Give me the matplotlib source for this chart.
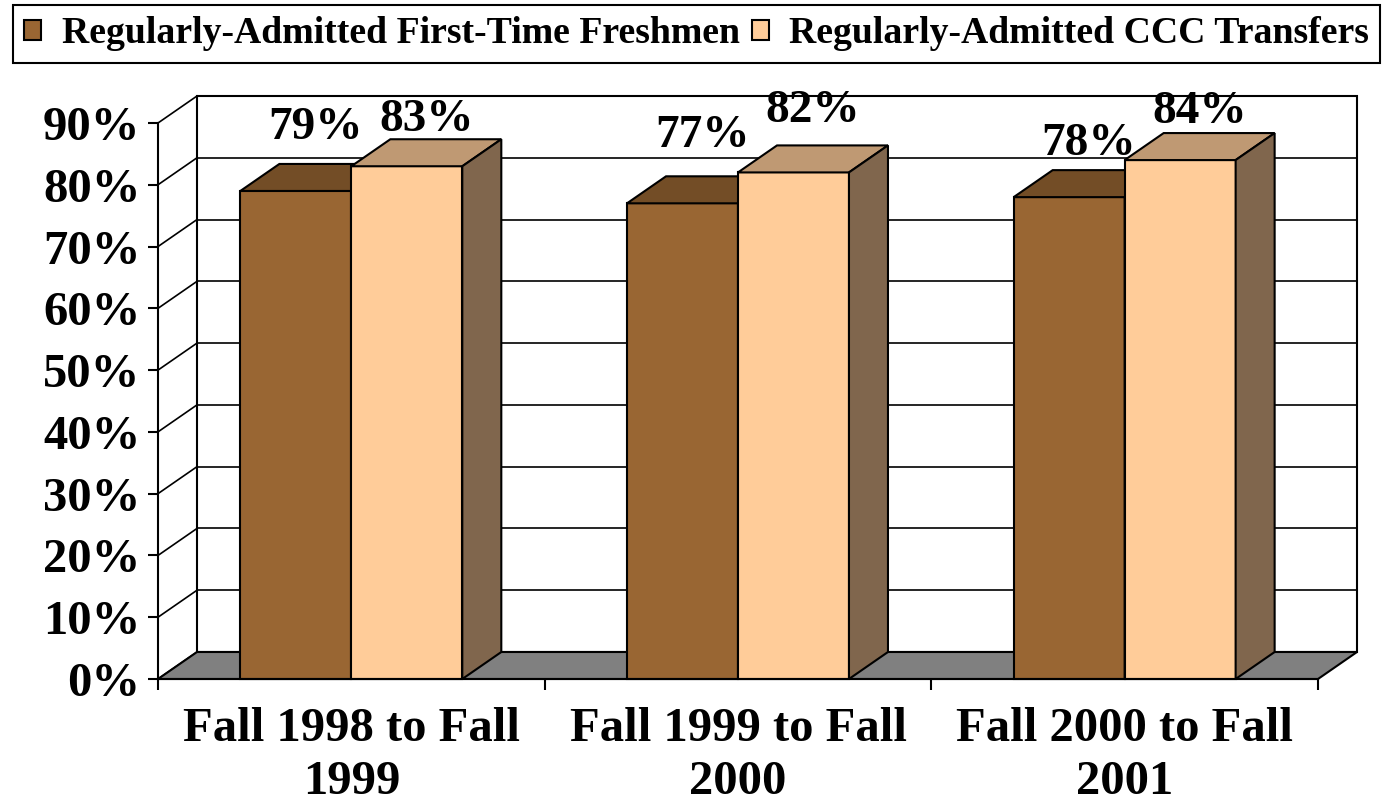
import matplotlib
matplotlib.use("Agg")
import matplotlib.pyplot as plt
from matplotlib.patches import Polygon, Patch

# ---- data ----
categories = ["Fall 1998 to Fall\n1999", "Fall 1999 to Fall\n2000", "Fall 2000 to Fall\n2001"]
series_names = ["Regularly-Admitted First-Time Freshmen", "Regularly-Admitted CCC Transfers"]
freshmen = [0.79, 0.77, 0.78]
transfers = [0.83, 0.82, 0.84]
y_ticks = [0.0, 0.1, 0.2, 0.3, 0.4, 0.5, 0.6, 0.7, 0.8, 0.9]
y_tick_labels = ["0%", "10%", "20%", "30%", "40%", "50%", "60%", "70%", "80%", "90%"]

# ---- style ----
FRONT = ["#996633", "#FFCC99"]
TOP = ["#734D26", "#BF9973"]
SIDE = ["#4D331A", "#80664D"]
FLOOR = "#808080"
LW = 1.5
BAR_W = 0.287
DEPTH_X_PX, DEPTH_Y_PX = 39, 27
# how far each value label sits above its bar top (points), per category / series
LABEL_RAISE = [[26, 14], [29, 25], [19, 15]]

plt.rcParams["font.family"] = ["Liberation Serif", "DejaVu Serif"]
plt.rcParams["font.weight"] = "bold"

W, H = 1388, 805
fig = plt.figure(figsize=(W / 100, H / 100), dpi=100)
ax = fig.add_axes([158 / W, 1 - 679 / H, (1318 - 158) / W, (679 - 123) / H])
ax.set_xlim(0, 3)
ax.set_ylim(0, 0.9)
ax.patch.set_visible(False)

# depth offset of the 3-D box, converted into data units
bbox = ax.get_window_extent()
dx = DEPTH_X_PX * 3 / bbox.width
dy = DEPTH_Y_PX * 0.9 / bbox.height
ymax = y_ticks[-1]
nx = len(categories)

common = dict(clip_on=False)

# back wall with gridlines
ax.add_patch(Polygon([(dx, dy), (nx + dx, dy), (nx + dx, ymax + dy), (dx, ymax + dy)],
                     closed=True, facecolor="white", edgecolor="black", lw=LW, zorder=1, **common))
for v in y_ticks[1:-1]:
    ax.plot([dx, nx + dx], [v + dy, v + dy], color="black", lw=LW * 0.8, zorder=1.1, **common)
# side wall diagonals
for v in y_ticks:
    ax.plot([0, dx], [v, v + dy], color="black", lw=LW * 0.8, zorder=1.1, **common)
# floor
ax.add_patch(Polygon([(0, 0), (nx, 0), (nx + dx, dy), (dx, dy)], closed=True,
                     facecolor=FLOOR, edgecolor="black", lw=LW, zorder=1.5, **common))

# bars
for i, vals in enumerate(zip(freshmen, transfers)):
    for j, v in enumerate(vals):
        z = 3 + j
        x0 = i + 0.5 - BAR_W + j * BAR_W
        x1 = x0 + BAR_W
        ax.bar(x0, v, width=BAR_W, align="edge", color=FRONT[j], edgecolor="black",
               lw=LW, zorder=z, **common)
        ax.add_patch(Polygon([(x0, v), (x1, v), (x1 + dx, v + dy), (x0 + dx, v + dy)],
                             closed=True, facecolor=TOP[j], edgecolor="black", lw=LW,
                             zorder=z, **common))
        ax.add_patch(Polygon([(x1, 0), (x1 + dx, dy), (x1 + dx, v + dy), (x1, v)],
                             closed=True, facecolor=SIDE[j], edgecolor="black", lw=LW,
                             zorder=z, **common))
        ax.annotate(f"{round(v * 100)}%", xy=(x0 + BAR_W / 2 + dx / 2, v + dy),
                    xytext=(0, LABEL_RAISE[i][j]), textcoords="offset points",
                    ha="center", va="center", fontsize=34, fontweight="bold",
                    zorder=10, annotation_clip=False)

# axes lines and ticks
for s in ("top", "right"):
    ax.spines[s].set_visible(False)
for s in ("left", "bottom"):
    ax.spines[s].set_linewidth(LW)
    ax.spines[s].set_zorder(10)
ax.set_yticks(y_ticks, y_tick_labels, fontsize=35, fontweight="bold")
ax.tick_params(axis="y", direction="out", length=7.2, width=LW, pad=5.5)
ax.set_xticks(range(nx + 1), [""] * (nx + 1))
ax.tick_params(axis="x", which="major", direction="out", length=8, width=LW)
ax.set_xticks([i + 0.5 for i in range(nx)], categories, minor=True,
              fontsize=35, fontweight="bold")
ax.tick_params(axis="x", which="minor", length=0, pad=20)
for lab in ax.get_xticklabels(minor=True):
    lab.set_linespacing(1.26)

# legend
handles = [Patch(facecolor=c, edgecolor="black", lw=LW) for c in FRONT]
leg = fig.legend(handles, series_names, loc="upper center", ncol=2,
                 bbox_to_anchor=((10 + 1383) / 2 / W, 1 - 5 / H),
                 frameon=True, fancybox=False, edgecolor="black", framealpha=1,
                 prop={"size": 27.2, "weight": "bold"}, handlelength=0.45,
                 handleheight=0.45, handletextpad=0.53, columnspacing=0.32,
                 borderpad=0.3, borderaxespad=0)
leg.get_frame().set_linewidth(LW)

fig.savefig("out.png", dpi=100)
